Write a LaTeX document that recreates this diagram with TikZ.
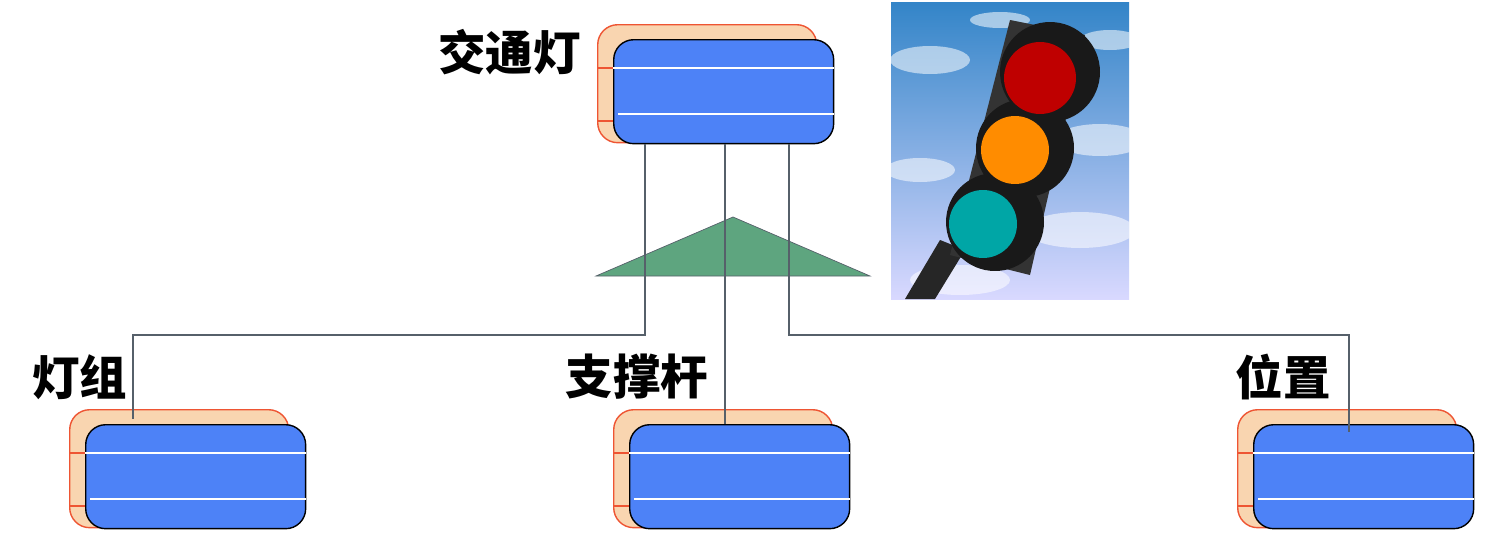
\documentclass[tikz,border=0pt]{standalone}
\usepackage{fontspec}
\newfontfamily\cjk{Noto Sans CJK SC}
\usetikzlibrary{calc,positioning}
\definecolor{frontblue}{HTML}{4D82F7}
\definecolor{backpeach}{HTML}{F9D5B0}
\definecolor{backred}{HTML}{EE5533}
\definecolor{trigreen}{HTML}{5EA57F}
\definecolor{linegray}{HTML}{56606A}
\tikzset{
  backbox/.style={draw=backred, fill=backpeach, thick, rounded corners=0.4cm, minimum width=4.38cm, minimum height=2.36cm, inner sep=0pt},
  frontbox/.style={draw=black, fill=frontblue, thick, rounded corners=0.4cm, minimum width=4.4cm, minimum height=2.08cm, inner sep=0pt},
  classname/.style={font=\cjk\bfseries\fontsize{27}{31}\selectfont, inner sep=0pt},
  link/.style={draw=linegray, semithick},
}
\newcommand{\classpair}[3]{% name, back left x, back top y
  \node[backbox, anchor=north west] (#1b) at (#2,#3) {};
  \node[frontbox, anchor=north west] (#1) at ($(#1b.north west)+(16,15)$) {};
  \draw[white, thick] ($(#1.north west)+(0,29)$) -- ($(#1.north east)+(0,29)$);
  \draw[white, thick] ($(#1.north west)+(5,75)$) -- ($(#1.north east)+(0,75)$);
  \draw[backred, thick] ($(#1.north west)+(0,29)$) -- ($(#1.north west)+(-16,29)$);
  \draw[backred, thick] ($(#1.north west)+(0,82)$) -- ($(#1.north west)+(-16,82)$);
}
\begin{document}
\begin{tikzpicture}[x=0.02cm, y=-0.02cm]
\useasboundingbox (0,0) rectangle (1490,558);

% photo of the traffic light
\begin{scope}
\clip (891,2) rectangle (1129,299);
\shade[top color=blue!55!black!60!cyan!80, bottom color=blue!15!white] (891,2) rectangle (1129,299);
\foreach \cx/\cy/\rx/\ry in {930/60/40/14, 1100/140/45/16, 920/170/35/12, 1080/230/55/18, 960/280/50/15, 1110/40/30/10, 1000/20/30/8}
  \fill[white, opacity=0.55] (\cx,\cy) ellipse ({\rx*0.02cm} and {\ry*0.02cm});
\fill[black!85] (905,299) -- (940,240) -- (965,250) -- (935,299) -- cycle;
\fill[black!80] (1010,20) -- (1085,35) -- (1030,275) -- (950,255) -- cycle;
\fill[black!90] (1050,72) circle (1.0cm);
\fill[black!90] (1025,148) circle (0.98cm);
\fill[black!90] (995,222) circle (0.98cm);
\fill[red!75!black] (1040,78) circle (0.72cm);
\fill[orange!90!yellow] (1015,150) circle (0.68cm);
\fill[teal!70!cyan] (983,224) circle (0.68cm);
\end{scope}

\classpair{light}{597}{24}
\classpair{lamps}{69}{409}
\classpair{pole}{613}{409}
\classpair{place}{1237}{409}

\node[classname, anchor=east] (lightname) at (581,52) {交通灯};
\node[classname] (lampsname) at (80,377) {灯组};
\node[classname] (polename) at (637,377) {支撑杆};
\node[classname] (placename) at (1283,377) {位置};

% aggregation
\coordinate (tl) at (596,276);
\coordinate (tt) at (733,217);
\coordinate (tr) at (870,276);
\filldraw[fill=trigreen, draw=linegray] (tl) -- (tt) -- (tr) -- cycle;

\coordinate (ja) at (645,335);
\coordinate (jb) at (789,335);
\draw[link] (light.south -| ja) -- (ja) -| ($(lamps.north west)+(48,-5)$);
\draw[link] (light.south -| 725,0) -- (pole.north -| 725,0);
\draw[link] (light.south -| jb) -- (jb) -| ($(place.north west)+(96,8)$);
\end{tikzpicture}
\end{document}
